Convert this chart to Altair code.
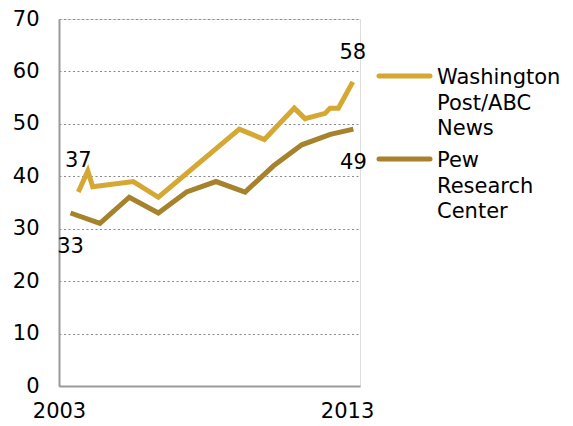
import altair as alt
import pandas as pd

# Washington Post/ABC News
wp_year = [2003.67, 2004.0, 2004.17, 2005.58, 2006.45, 2009.26, 2010.13, 2011.17, 2011.54, 2012.24, 2012.41, 2012.70, 2013.2]
wp_val = [37, 41, 38, 39, 36, 49, 47, 53, 51, 52, 53, 53, 58]
# Pew Research Center
pew_year = [2003.4, 2004.42, 2005.44, 2006.45, 2007.43, 2008.45, 2009.46, 2010.45, 2011.43, 2012.42, 2013.22]
pew_val = [33, 31, 36, 33, 37, 39, 37, 42, 46, 48, 49]

series_names = ["Washington Post/ABC News", "Pew Research Center"]
legend_lines = [["Washington", "Post/ABC", "News"], ["Pew", "Research", "Center"]]
colors = ["#D4A833", "#A5822B"]
y_ticks = [0, 10, 20, 30, 40, 50, 60, 70]
x_ticks = [2003, 2013]

FONT = "DejaVu Sans"
FS = 21

rows = []
for yr, v in zip(wp_year, wp_val):
    rows.append({"year": yr, "value": v, "series": series_names[0]})
for yr, v in zip(pew_year, pew_val):
    rows.append({"year": yr, "value": v, "series": series_names[1]})
df = pd.DataFrame(rows)

wp_first = pd.DataFrame([{"year": wp_year[0], "value": wp_val[0]}])
wp_last = pd.DataFrame([{"year": wp_year[-1], "value": wp_val[-1]}])
pew_first = pd.DataFrame([{"year": pew_year[0], "value": pew_val[0]}])
pew_last = pd.DataFrame([{"year": pew_year[-1], "value": pew_val[-1]}])

xscale = alt.Scale(domain=[2003, 2013.45], nice=False, zero=False)
yscale = alt.Scale(domain=[0, 70], nice=False)

x_enc = alt.X("year:Q", scale=xscale, axis=alt.Axis(
    values=x_ticks, format="d", title=None, grid=False, ticks=False,
    labelFont=FONT, labelFontSize=FS, labelColor="#000", labelPadding=14,
    labelFlush=False, labelOverlap=False,
    domainColor="#9a9a9a", domainWidth=2))
y_enc = alt.Y("value:Q", scale=yscale, axis=alt.Axis(
    values=y_ticks, title=None, ticks=False, grid=True,
    gridColor="#8a8a8a", gridDash=[2, 2.5], gridWidth=1.2,
    labelFont=FONT, labelFontSize=FS, labelColor="#000", labelPadding=20,
    domainColor="#9a9a9a", domainWidth=2))

lines = alt.Chart(df).mark_line(strokeWidth=5, strokeJoin="miter", strokeCap="butt").encode(
    x=x_enc, y=y_enc,
    color=alt.Color("series:N", scale=alt.Scale(domain=series_names, range=colors), legend=None),
    detail="series:N",
)

def label(d, dy):
    return alt.Chart(d).mark_text(font=FONT, fontSize=FS, color="#000", dy=dy, baseline="alphabetic").encode(
        x=alt.X("year:Q", scale=xscale), y=alt.Y("value:Q", scale=yscale), text=alt.Text("value:Q"))

labels = [label(wp_first, -25), label(pew_first, 40), label(wp_last, -23), label(pew_last, 40)]

leg = []
for i, (ly, ty) in enumerate([(57, 65), (140, 148)]):
    leg.append(alt.Chart(pd.DataFrame({"k": [series_names[i]]})).mark_rule(
        color=colors[i], strokeWidth=5, strokeCap="round").encode(
        x=alt.value(320), x2=alt.value(371), y=alt.value(ly)))
    leg.append(alt.Chart(pd.DataFrame({"t": [legend_lines[i]]})).mark_text(
        font=FONT, fontSize=FS, color="#000", align="left", baseline="alphabetic", lineHeight=25.5).encode(
        x=alt.value(378), y=alt.value(ty), text="t"))

chart = alt.layer(lines, *labels, *leg).properties(
    width=301, height=367,
    autosize=alt.AutoSizeParams(type="none"),
    padding={"left": 51, "top": 11, "right": 205, "bottom": 32},
).configure_view(stroke=None).configure(background="white")

chart.save("out.html", embed_options={"renderer": "svg", "actions": False})
